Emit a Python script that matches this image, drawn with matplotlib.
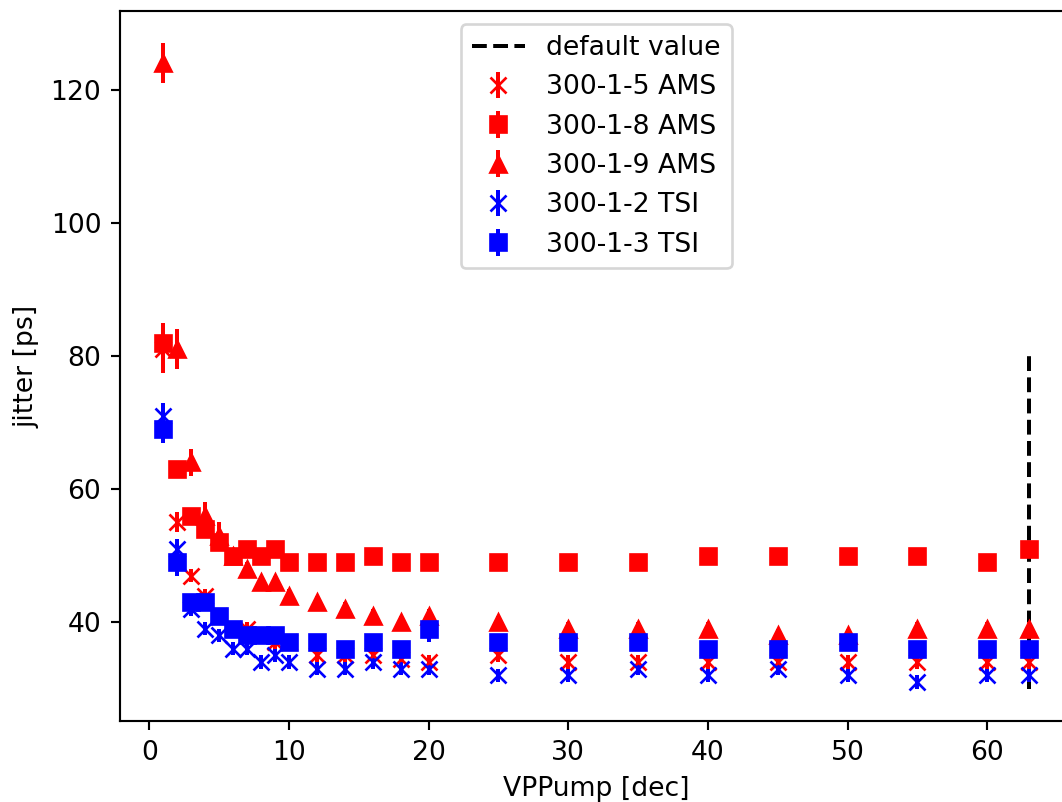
import matplotlib
matplotlib.use("Agg")
import matplotlib.pyplot as plt

vppump = [1, 2, 3, 4, 5, 6, 7, 8, 9, 10, 12, 14, 16, 18, 20, 25, 30, 35, 40, 45, 50, 55, 60, 63]

ams_5 = [81, 55, 47, 44, 41, 39, 39, 38, 37, 37, 35, 35, 35, 34.5, 34, 35, 34, 34, 34, 34, 34, 34, 34, 34]
ams_5_err = [3.5, 1.5, 1, 1, 1, 1, 1, 1, 1, 1, 1, 1, 1, 1, 1, 1, 1, 1, 1, 1, 1, 1, 1, 1]

ams_8 = [82, 63, 56, 54, 52, 50, 51, 50, 51, 49, 49, 49, 50, 49, 49, 49, 49, 49, 50, 50, 50, 50, 49, 51]
ams_8_err = [3, 1, 1, 1, 1, 1, 1, 1, 1, 1, 1, 1, 1, 1, 1, 1, 1, 1, 1, 1, 1, 1, 1, 1]

ams_9 = [124, 81, 64, 56, 53, 50, 48, 46, 46, 44, 43, 42, 41, 40, 41, 40, 39, 39, 39, 38, 38, 39, 39, 39]
ams_9_err = [3, 3, 2, 2, 2, 1, 1, 1, 1, 1, 1, 1, 1, 1, 1, 1, 1, 1, 1, 1, 1, 1, 1, 1]

tsi_2 = [71, 51, 42, 39, 38, 36, 36, 34, 35, 34, 33, 33, 34, 33, 33, 32, 32, 33, 32, 33, 32, 31, 32, 32]
tsi_2_err = [2, 1.5, 1, 1, 1, 1, 1, 1, 1, 1, 1, 1, 1, 1, 1, 1, 1, 1, 1, 1, 1, 1, 1, 1]

tsi_3 = [69, 49, 43, 43, 41, 39, 38, 38, 38, 37, 37, 36, 37, 36, 39, 37, 37, 37, 36, 36, 37, 36, 36, 36]
tsi_3_err = [2, 2, 1, 1, 1, 1, 1, 1, 1, 1, 1, 1, 1, 1, 2, 1, 1, 1, 1, 1, 1, 1, 1, 1]

default_x = 63
default_ymin, default_ymax = 30, 80

DPI = 192
fig = plt.figure(figsize=(1062 / DPI, 802 / DPI), dpi=DPI)
ax = fig.add_axes([120 / 1062, (802 - 721) / 802, (1072.5 - 120) / 1062, (721 - 11) / 802])

ax.vlines(default_x, default_ymin, default_ymax, colors="black", linestyles="--",
          label="default value")
ax.errorbar(vppump, ams_5, yerr=ams_5_err, fmt="x", color="red", label="300-1-5 AMS")
ax.errorbar(vppump, ams_8, yerr=ams_8_err, fmt="s", color="red", label="300-1-8 AMS")
ax.errorbar(vppump, ams_9, yerr=ams_9_err, fmt="^", color="red", label="300-1-9 AMS")
ax.errorbar(vppump, tsi_2, yerr=tsi_2_err, fmt="x", color="blue", label="300-1-2 TSI")
ax.errorbar(vppump, tsi_3, yerr=tsi_3_err, fmt="s", color="blue", label="300-1-3 TSI")

ax.set_xlabel("VPPump [dec]")
ax.set_ylabel("jitter [ps]")
ax.legend(loc="upper center")

fig.savefig("out.png", dpi=DPI)
